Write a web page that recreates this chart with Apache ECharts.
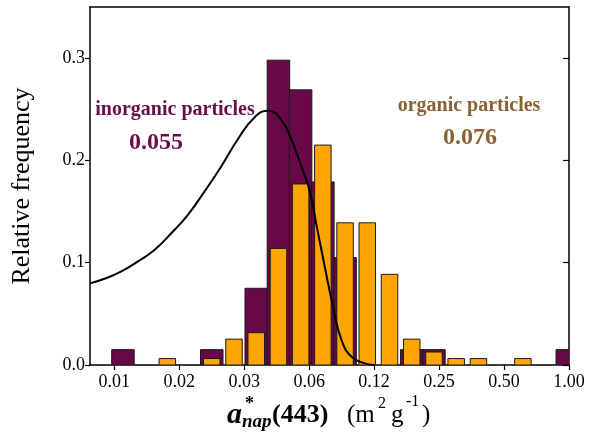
<!DOCTYPE html>
<html>
<head>
<meta charset="utf-8">
<script src="https://cdn.jsdelivr.net/npm/echarts@6/dist/echarts.min.js"></script>
<style>
  html, body { margin: 0; padding: 0; background: #fff; }
  #chart { width: 589px; height: 435px; }
</style>
</head>
<body>
<div id="chart"></div>
<script>
// Centres des classes a*nap(443) (m2 g-1), échelle log2
var binCenters = [0.00857, 0.01086, 0.01376, 0.01745, 0.02211, 0.02803, 0.03554, 0.04503,
    0.05707, 0.07234, 0.09169, 0.1162, 0.1473, 0.1867, 0.2367, 0.3000, 0.3805, 0.4823,
    0.6113, 0.7748, 0.982];

// Fréquences relatives
var inorganic = [0.015, 0, 0, 0, 0.015, 0, 0.075, 0.298, 0.269, 0.179, 0.105, 0, 0,
    0.015, 0.015, 0, 0, 0, 0, 0, 0.015];
var organic = [0, 0, 0.0063, 0, 0.0063, 0.0253, 0.0316, 0.114, 0.177, 0.215, 0.139,
    0.139, 0.0886, 0.0253, 0.0127, 0.0063, 0.0063, 0, 0.0063, 0, 0];

// Courbe
var curveX = [0.00605, 0.00720, 0.00838, 0.01002, 0.01198, 0.01431, 0.01710, 0.02044,
    0.02441, 0.02916, 0.03486, 0.04022, 0.04653, 0.05175, 0.05756, 0.06289, 0.06756,
    0.07383, 0.08065, 0.08826, 0.09824, 0.1132, 0.1259];
var curveY = [0.0799, 0.0850, 0.0912, 0.1010, 0.1124, 0.1285, 0.1466, 0.1695, 0.1938,
    0.2205, 0.2420, 0.2486, 0.2395, 0.2200, 0.1938, 0.1700, 0.1370, 0.0961, 0.0570,
    0.0244, 0.0081, 0.0016, 0];

// Axes
var xMin = 0.00603;
var xMax = 1;
var xTickValues = [0.0078125, 0.015625, 0.03125, 0.0625, 0.125, 0.25, 0.5, 1];
var xTickLabels = ['0.01', '0.02', '0.03', '0.06', '0.12', '0.25', '0.50', '1.00'];
var yTickValues = [0, 0.1, 0.2, 0.3];

var FONT = 'Liberation Serif';
var PURPLE = '#680848';
var ORANGE = '#ffa500';

function barRender(width, color) {
    return function (params, api) {
        var v = api.value(1);
        if (!v) {
            return;
        }
        var top = api.coord([api.value(0), v]);
        var base = api.coord([api.value(0), 0]);
        return {
            type: 'rect',
            shape: { x: top[0] - width / 2, y: top[1], width: width, height: base[1] - top[1] },
            style: { fill: color, stroke: '#1a1a1a', lineWidth: 1 }
        };
    };
}

function toPairs(xs, ys) {
    return xs.map(function (x, i) { return [Math.log2(x), ys[i]]; });
}

function label(text, x, y, size, style, color) {
    return {
        type: 'text', x: x, y: y, z: 100,
        style: {
            text: text,
            font: style + ' ' + size + 'px "' + FONT + '"',
            fill: color || '#000',
            align: 'left',
            verticalAlign: 'middle'
        }
    };
}

function centered(text, x, y, size, color) {
    var el = label(text, x, y, size, 'bold', color);
    el.style.align = 'center';
    return el;
}

var chart = echarts.init(document.getElementById('chart'));

var axisLineStyle = { color: '#000', width: 1.5 };

var option = {
    animation: false,
    backgroundColor: '#fff',
    grid: { left: 90, right: 20, top: 7, bottom: 70, outerBoundsMode: 'none' },
    xAxis: [
        {
            type: 'value',
            min: Math.log2(xMin),
            max: Math.log2(xMax),
            splitLine: { show: false },
            axisLine: { onZero: false, lineStyle: axisLineStyle },
            axisTick: {
                length: 5,
                lineStyle: { color: '#000', width: 1.2 },
                customValues: xTickValues.map(Math.log2)
            },
            axisLabel: {
                customValues: xTickValues.map(Math.log2),
                color: '#000',
                fontFamily: FONT,
                fontSize: 18,
                margin: 8,
                formatter: function (v) {
                    for (var i = 0; i < xTickValues.length; i++) {
                        if (Math.abs(Math.log2(xTickValues[i]) - v) < 1e-6) {
                            return xTickLabels[i];
                        }
                    }
                    return '';
                }
            }
        },
        {
            type: 'value',
            position: 'top',
            min: Math.log2(xMin),
            max: Math.log2(xMax),
            splitLine: { show: false },
            axisLine: { onZero: false, lineStyle: axisLineStyle },
            axisTick: { show: false },
            axisLabel: { show: false }
        }
    ],
    yAxis: [
        {
            type: 'value',
            min: 0,
            max: 0.35,
            name: 'Relative frequency',
            nameLocation: 'middle',
            nameGap: 55,
            nameTextStyle: { color: '#000', fontFamily: FONT, fontSize: 26 },
            splitLine: { show: false },
            axisLine: { show: true, onZero: false, lineStyle: axisLineStyle },
            axisTick: {
                show: true,
                length: 5,
                lineStyle: { color: '#000', width: 1.2 },
                customValues: yTickValues
            },
            axisLabel: {
                customValues: yTickValues,
                color: '#000',
                fontFamily: FONT,
                fontSize: 18,
                margin: 5,
                formatter: function (v) { return v.toFixed(1); }
            }
        },
        {
            type: 'value',
            position: 'right',
            min: 0,
            max: 0.35,
            splitLine: { show: false },
            axisLine: { show: true, onZero: false, lineStyle: axisLineStyle },
            axisTick: {
                show: true,
                inside: true,
                length: 6,
                lineStyle: { color: '#000', width: 1.2 },
                customValues: yTickValues
            },
            axisLabel: { show: false }
        }
    ],
    series: [
        {
            name: 'inorganic particles',
            type: 'custom',
            clip: true,
            renderItem: barRender(22.5, PURPLE),
            encode: { x: 0, y: 1 },
            data: toPairs(binCenters, inorganic),
            z: 2
        },
        {
            name: 'organic particles',
            type: 'custom',
            clip: true,
            renderItem: barRender(16.5, ORANGE),
            encode: { x: 0, y: 1 },
            data: toPairs(binCenters, organic),
            z: 3
        },
        {
            name: 'fit',
            type: 'line',
            smooth: 0.5,
            symbol: 'none',
            lineStyle: { color: '#000', width: 2 },
            data: toPairs(curveX, curveY),
            z: 4
        }
    ],
    graphic: [
        centered('inorganic particles', 175, 110, 20, '#6b0c4a'),
        centered('0.055', 156, 142.5, 24, '#6b0c4a'),
        centered('organic particles', 469, 106, 20, '#8a6232'),
        centered('0.076', 470, 137.5, 24, '#8a6232'),
        // titre de l'axe x : a*nap(443)  (m2 g-1)
        label('a', 227, 415, 30, 'italic bold'),
        label('*', 245, 404, 18, 'bold'),
        label('nap', 242, 422, 19, 'italic bold'),
        label('(443)', 272, 415, 26, 'bold'),
        label('(m', 347, 415.5, 25, 'normal'),
        label('2', 378, 404, 16, 'normal'),
        label('g', 391, 415.5, 25, 'normal'),
        label('-1', 406, 402, 16, 'normal'),
        label(')', 422, 415.5, 25, 'normal')
    ]
};

chart.setOption(option);
</script>
</body>
</html>
